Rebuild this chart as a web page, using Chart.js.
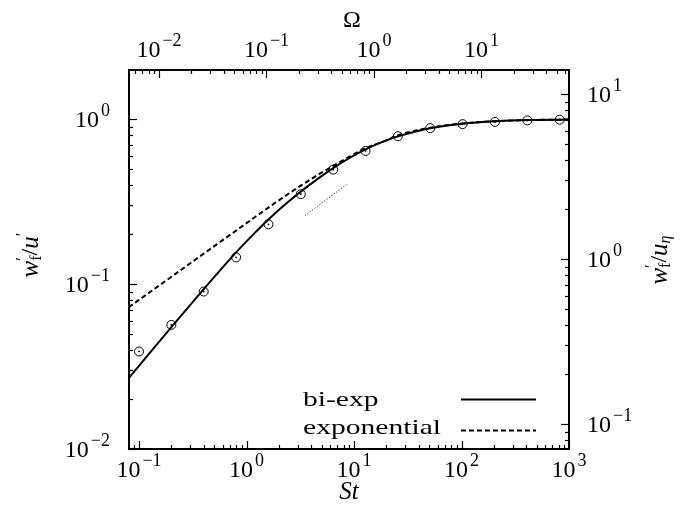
<!DOCTYPE html>
<html>
<head>
<meta charset="utf-8">
<script src="https://cdn.jsdelivr.net/npm/chart.js@4.4.1/dist/chart.umd.min.js"></script>
<style>
  html, body { margin: 0; background: #fff; }
  #wrap { width: 689px; height: 508px; position: relative; }
</style>
</head>
<body>
<div id="wrap"><canvas id="chart"></canvas></div>
<script>
const stCurve = [0.08, 0.1, 0.15, 0.2, 0.3, 0.4, 0.6, 0.8, 1.2, 1.6, 2.4, 3.2, 4.8, 6.4, 9.6, 12.8, 19.2, 25.6, 38.4, 51.2, 102.4, 204.8, 409.6, 1000];
const biExp = [0.0268, 0.0319, 0.0438, 0.0547, 0.0747, 0.093, 0.126, 0.1555, 0.2048, 0.2461, 0.3114, 0.3628, 0.4424, 0.5036, 0.5922, 0.655, 0.7336, 0.7838, 0.8431, 0.8778, 0.9344, 0.9672, 0.984, 0.993];
const expo = [0.0722, 0.0801, 0.0967, 0.1105, 0.1335, 0.1526, 0.1843, 0.2107, 0.2544, 0.2904, 0.3484, 0.3943, 0.4657, 0.5195, 0.6036, 0.6658, 0.7336, 0.7967, 0.8535, 0.8857, 0.9397, 0.9694, 0.9842, 0.992];

// simulation points (circles)
const stMarks = [0.1, 0.2, 0.4, 0.8, 1.6, 3.2, 6.4, 12.8, 25.6, 51.2, 102.4, 204.8, 409.6, 819.2];
const wMarks = [0.039, 0.0565, 0.090, 0.145, 0.230, 0.350, 0.493, 0.640, 0.786, 0.88, 0.93, 0.96, 0.98, 0.99];

// short St^(1/2) guide line
const stSlope = [3.5, 8.5];
const wSlope = [0.26, 0.40];

const legendLabels = ['bi-exp', 'exponential'];

// axis ranges
const stRange = [0.0807, 1000];
const omegaRange = [0.00526, 65.2];
const wRange = [0.01, 1.98];
const wEtaRange = [0.0706, 13.98];

const SERIF = '"Liberation Serif", "DejaVu Serif", serif';
const pts = (xs, ys) => xs.map((x, i) => ({ x: x, y: ys[i] }));

function logTicks(min, max) {
    const majors = [], minors = [];
    for (let e = Math.floor(Math.log10(min)); e <= Math.ceil(Math.log10(max)); e++) {
        for (let m = 1; m < 10; m++) {
            const v = m * Math.pow(10, e);
            if (v < min * 0.9999 || v > max * 1.0001) continue;
            (m === 1 ? majors : minors).push(v);
        }
    }
    return { majors, minors };
}

function drawPow(ctx, e, x, cy, align) {
    const base = '10';
    const sup = e < 0 ? '\u2212' + (-e) : String(e);
    ctx.font = '24px ' + SERIF;
    const wb = ctx.measureText(base).width;
    ctx.font = '18px ' + SERIF;
    const ws = ctx.measureText(sup).width;
    const total = wb + 2 + ws;
    let x0 = x;
    if (align === 'center') x0 = x - total / 2;
    else if (align === 'right') x0 = x - total;
    ctx.textAlign = 'left';
    ctx.textBaseline = 'alphabetic';
    ctx.font = '24px ' + SERIF;
    ctx.fillText(base, x0, cy + 8);
    ctx.font = '18px ' + SERIF;
    ctx.fillText(sup, x0 + wb + 2, cy - 3);
}

// segments: {t, f, dy, stay}  stay = next segment starts at same x
function drawRich(ctx, segs, cx, cy, rot) {
    let total = 0;
    segs.forEach(s => {
        ctx.font = s.f;
        s.w = ctx.measureText(s.t).width;
        if (!s.stay) total += s.w;
    });
    ctx.save();
    ctx.translate(cx, cy);
    ctx.rotate(rot);
    ctx.textAlign = 'left';
    ctx.textBaseline = 'middle';
    let x = -total / 2;
    segs.forEach(s => {
        ctx.font = s.f;
        ctx.fillText(s.t, x, s.dy);
        if (!s.stay) x += s.w;
    });
    ctx.restore();
}

const axisPlugin = {
    id: 'gnuplotAxes',
    afterDraw(chart) {
        const ctx = chart.ctx;
        const a = chart.chartArea;
        const s = chart.scales;
        ctx.save();
        ctx.strokeStyle = '#000';
        ctx.fillStyle = '#000';
        ctx.lineWidth = 1.2;

        const tickSet = [
            { sc: s.x, range: stRange, side: 'bottom' },
            { sc: s.x2, range: omegaRange, side: 'top' },
            { sc: s.y, range: wRange, side: 'left' },
            { sc: s.y2, range: wEtaRange, side: 'right' }
        ];
        tickSet.forEach(t => {
            const tk = logTicks(t.range[0], t.range[1]);
            const draw = (v, len) => {
                const p = Math.round(t.sc.getPixelForValue(v)) + 0.5;
                ctx.beginPath();
                if (t.side === 'bottom') { ctx.moveTo(p, a.bottom); ctx.lineTo(p, a.bottom - len); }
                if (t.side === 'top') { ctx.moveTo(p, a.top); ctx.lineTo(p, a.top + len); }
                if (t.side === 'left') { ctx.moveTo(a.left, p); ctx.lineTo(a.left + len, p); }
                if (t.side === 'right') { ctx.moveTo(a.right, p); ctx.lineTo(a.right - len, p); }
                ctx.stroke();
            };
            tk.majors.forEach(v => draw(v, 8));
            tk.minors.forEach(v => draw(v, 4));
            tk.majors.forEach(v => {
                const e = Math.round(Math.log10(v));
                const p = t.sc.getPixelForValue(v);
                if (t.side === 'bottom') drawPow(ctx, e, p, a.bottom + 20, 'center');
                if (t.side === 'top') drawPow(ctx, e, p, a.top - 21, 'center');
                if (t.side === 'left') drawPow(ctx, e, a.left - 19, p, 'right');
                if (t.side === 'right') drawPow(ctx, e, a.right + 18, p, 'left');
            });
        });

        // axis titles
        const it = 'italic 25px ' + SERIF;
        drawRich(ctx, [{ t: 'St', f: it, dy: 0 }], (a.left + a.right) / 2, 492, 0);
        drawRich(ctx, [{ t: '\u03A9', f: '24px ' + SERIF, dy: 0 }], (a.left + a.right) / 2 + 3, 21, 0);
        drawRich(ctx, [
            { t: 'w', f: it, dy: 0 },
            { t: '\u2032', f: '17px ' + SERIF, dy: -8, stay: true },
            { t: 'f', f: '16px ' + SERIF, dy: 6 },
            { t: '/', f: '24px ' + SERIF, dy: 0 },
            { t: 'u', f: it, dy: 0 },
            { t: '\u2032', f: '17px ' + SERIF, dy: -8 }
        ], 31, 255, -Math.PI / 2);
        drawRich(ctx, [
            { t: 'w', f: it, dy: 0 },
            { t: '\u2032', f: '17px ' + SERIF, dy: -8, stay: true },
            { t: 'f', f: '16px ' + SERIF, dy: 6 },
            { t: '/', f: '24px ' + SERIF, dy: 0 },
            { t: 'u', f: it, dy: 0 },
            { t: '\u03B7', f: 'italic 16px ' + SERIF, dy: 6 }
        ], 660, 260, -Math.PI / 2);

        // legend
        ctx.font = '22px ' + SERIF;
        const sx = 138 / ctx.measureText(legendLabels[1]).width;
        const rows = [
            { text: legendLabels[0], base: 406, ly: 399.5, dash: [] },
            { text: legendLabels[1], base: 434, ly: 430.5, dash: [5, 3] }
        ];
        rows.forEach(r => {
            ctx.save();
            ctx.translate(303, r.base);
            ctx.scale(sx, 1);
            ctx.textAlign = 'left';
            ctx.textBaseline = 'alphabetic';
            ctx.fillText(r.text, 0, 0);
            ctx.restore();
            ctx.lineWidth = 2;
            ctx.setLineDash(r.dash);
            ctx.beginPath();
            ctx.moveTo(461, r.ly);
            ctx.lineTo(536, r.ly);
            ctx.stroke();
        });
        ctx.setLineDash([]);
        ctx.restore();
    }
};

const hidden = { display: false };
function logAxis(pos, range, size) {
    return {
        type: 'logarithmic',
        position: pos,
        min: range[0],
        max: range[1],
        ticks: { display: false },
        grid: { display: false, drawTicks: false },
        border: { display: true, color: '#000', width: 2 },
        afterFit: sc => {
            if (pos === 'top' || pos === 'bottom') sc.height = size;
            else sc.width = size;
        }
    };
}

new Chart(document.getElementById('chart'), {
    type: 'line',
    data: {
        datasets: [
            {
                label: legendLabels[0],
                data: pts(stCurve, biExp),
                borderColor: '#000', borderWidth: 2,
                pointRadius: 0, cubicInterpolationMode: 'monotone',
                xAxisID: 'x', yAxisID: 'y'
            },
            {
                label: legendLabels[1],
                data: pts(stCurve, expo),
                borderColor: '#000', borderWidth: 2, borderDash: [5, 3],
                pointRadius: 0, cubicInterpolationMode: 'monotone',
                xAxisID: 'x', yAxisID: 'y'
            },
            {
                label: 'slope',
                data: pts(stSlope, wSlope),
                borderColor: '#000', borderWidth: 1, borderDash: [1, 2],
                pointRadius: 0,
                xAxisID: 'x', yAxisID: 'y'
            },
            {
                label: 'circles',
                data: pts(stMarks, wMarks),
                showLine: false,
                pointRadius: 4.5, pointBorderWidth: 1,
                pointBorderColor: '#000', pointBackgroundColor: 'rgba(0,0,0,0)',
                xAxisID: 'x', yAxisID: 'y'
            },
            {
                label: 'dots',
                data: pts(stMarks, wMarks),
                showLine: false,
                pointRadius: 0.9, pointBorderWidth: 0,
                pointBackgroundColor: '#000',
                xAxisID: 'x', yAxisID: 'y'
            }
        ]
    },
    options: {
        responsive: true,
        maintainAspectRatio: false,
        animation: false,
        layout: { padding: 0 },
        plugins: { legend: hidden, tooltip: { enabled: false } },
        scales: {
            x: logAxis('bottom', stRange, 59),
            x2: logAxis('top', omegaRange, 70),
            y: logAxis('left', wRange, 129),
            y2: logAxis('right', wEtaRange, 120)
        }
    },
    plugins: [axisPlugin]
});
</script>
</body>
</html>
